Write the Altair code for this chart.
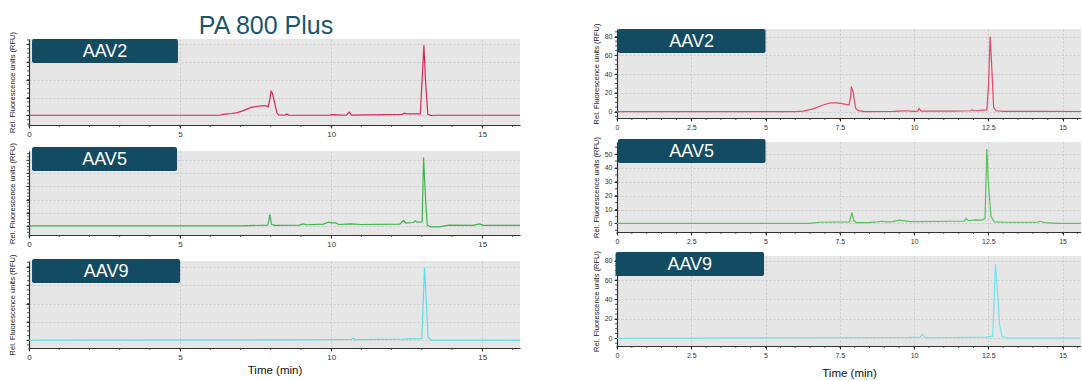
import altair as alt
import pandas as pd

# ---------------- data ----------------
# Left column (PA 800 Plus)
aav2_l_t = [0, 6.3, 6.44, 6.7, 6.9, 7.07, 7.35, 7.7, 7.85, 7.92, 7.97, 8.01, 8.05, 8.09, 8.2, 8.26, 8.45, 8.53, 8.6,
            9.9, 10.05, 10.2, 10.5, 10.6, 10.68, 12.35, 12.43, 12.5, 12.95, 13.01, 13.07, 13.12, 13.2, 13.3, 13.5, 16.3]
aav2_l_v = [0, 0, 1, 2, 3, 5, 8.8, 10.7, 10.5, 9.5, 18, 27, 25, 20, 3, 0.4, 0, 1.5, 0,
            0, 0.8, 0.5, 0, 3.4, 0.2, 1, 2.3, 1.5, 1.5, 40, 79, 40, 1, -0.3, 0, 0]

aav5_l_t = [0, 7.0, 7.9, 7.94, 7.97, 8.03, 8.16, 8.95, 9.07, 9.18, 9.74, 9.91, 10.0, 10.14, 10.25, 10.64, 10.98,
            12.27, 12.39, 12.47, 12.73, 12.78, 12.84, 13.01, 13.06, 13.12, 13.18, 13.29, 13.57, 13.9, 14.7, 14.91,
            15.03, 16.3]
aav5_l_v = [0, 0, 0.5, 4, 8.5, 1, 0.3, 0.5, 1.5, 0.8, 1.3, 2.8, 2.3, 2.3, 1, 1.5, 1,
            1.3, 4.2, 2, 2.5, 3.8, 2.8, 3, 52, 21.8, 0.5, -0.8, -0.8, 0.5, 0.3, 1.5,
            0.3, 0.3]

aav9_l_t = [0, 7.5, 9.0, 10.0, 10.66, 10.72, 10.8, 12.37, 13.0, 13.09, 13.15, 13.21, 13.31, 16.3]
aav9_l_v = [0, 0.3, 0.3, 0.7, 0.8, 2.2, 0.7, 1.1, 1.8, 79, 42, 3.3, 0, 0]

# Right column
aav2_r_t = [0, 6.0, 6.26, 6.6, 6.96, 7.19, 7.42, 7.66, 7.81, 7.86, 7.89, 7.95, 8.03, 8.12, 8.35, 9.3, 9.51, 9.74,
            9.98, 10.12, 10.17, 10.24, 11.37, 11.9, 11.95, 12.0, 12.07, 12.45, 12.51, 12.56, 12.62, 12.68, 12.76,
            13.0, 14.3, 15.8]
aav2_r_v = [0, 0, 0.7, 3, 7.4, 9.3, 9.3, 8, 7, 15, 26.7, 21, 3.7, 1.1, 0, 0.3, 0.7, 1,
            0.4, 0.5, 3.3, 0.7, 0.7, 1, 2.2, 1.2, 1, 1.9, 30, 80, 45, 4.4, 1,
            0.4, 0.4, 0.2]

aav5_r_t = [0, 6.5, 6.8, 7.83, 7.91, 7.97, 8.06, 8.47, 8.76, 8.93, 9.05, 9.28, 9.51, 9.69, 9.86, 10.21, 11.37,
            11.69, 11.75, 11.83, 12.06, 12.3, 12.39, 12.45, 12.5, 12.59, 12.7, 13.0, 14.15, 14.27, 14.39, 14.85, 15.8]
aav5_r_v = [0, 0, 0.8, 1, 8, 2, 0.5, 0.5, 1, 1.5, 1, 1.3, 2.3, 1.8, 1.3, 1.3, 1.5,
            1.5, 3.5, 2, 2.5, 2.3, 3.8, 53.75, 30, 5, 1, 0.8, 0.8, 1.5, 0.5, 0, 0]

aav9_r_t = [0, 7.5, 9.8, 10.21, 10.27, 10.35, 10.5, 12.41, 12.65, 12.74, 12.8, 12.88, 12.96, 13.11, 15.8]
aav9_r_v = [0, 0.7, 1, 1.4, 4.3, 1.4, 0.7, 1.4, 2.5, 76.5, 53, 14, 2.5, 0.4, 0.4]

# axis tick values
left_x_major = [0, 5, 10, 15]
left_x_minor = list(range(0, 17))
right_x_major = [0, 2.5, 5, 7.5, 10, 12.5, 15]
right_x_minor = [i * 0.5 for i in range(0, 32)]
y_major_80 = [0, 20, 40, 60, 80]
y_major_50 = [0, 10, 20, 30, 40, 50]
y_minor_lt = list(range(-10, 86, 5))
y_minor_lm = [x * 2.5 for x in range(-2, 23)]
y_minor_lb = list(range(-5, 86, 5))
y_minor_rt = list(range(-5, 88, 5))
y_minor_rm = list(range(-5, 59, 5))
y_minor_rb = list(range(-5, 85, 5))

TITLE = "PA 800 Plus"
YTITLE = "Rel. Fluorescence units (RFU)"
FONT = "Liberation Sans"
BOX = "#134b63"
AX = "#333333"


def panel(t, v, color, label, xdom, ydom, xmajor, xminor, ymajor, yminor, ylabels,
          width, height, xlabel_size, box_x, box_y, xtitle=None, xtitle_pad=10):
    df = pd.DataFrame({"t": t, "v": v})
    x_kw = dict(
        values=xmajor, format=".1~f", labelOverlap=False, labelFlush=False,
        grid=True, gridColor="#c4c4c4", gridDash=[2, 2], gridWidth=0.8,
        tickSize=3, tickColor=AX, domainColor=AX, domainWidth=1.2,
        labelFontSize=xlabel_size, labelColor=AX, labelFont=FONT, labelPadding=2,
    )
    if xtitle:
        x_kw.update(title=xtitle, titleFontSize=11.5, titleFont=FONT, titleFontWeight="normal",
                    titleColor="#111111", titlePadding=xtitle_pad)
    else:
        x_kw.update(title="")
    x_axis = alt.Axis(**x_kw)
    y_axis = alt.Axis(
        values=ymajor, format=".1~f", labels=ylabels, labelOverlap=False, labelFlush=False,
        grid=True, gridColor="#c4c4c4", gridDash=[2, 2], gridWidth=0.8,
        tickSize=3, tickColor=AX, domainColor=AX, domainWidth=1.2,
        labelFontSize=7, labelColor=AX, labelFont=FONT, labelPadding=2,
        title=YTITLE, titleFontSize=7.5, titleFont=FONT, titleFontWeight="normal",
        titleColor="#222222", titlePadding=(4 if ylabels else 9),
    )
    xscale = alt.Scale(domain=xdom, nice=False, zero=False)
    yscale = alt.Scale(domain=ydom, nice=False, zero=False)
    line = alt.Chart(df).mark_line(color=color, strokeWidth=1.2, clip=True).encode(
        x=alt.X("t:Q", scale=xscale, axis=x_axis),
        y=alt.Y("v:Q", scale=yscale, axis=y_axis),
    )
    xm = alt.Chart(pd.DataFrame({"m": xminor})).mark_rule(color=AX, strokeWidth=0.8).encode(
        x=alt.X("m:Q", scale=xscale, axis=x_axis), y=alt.value(height), y2=alt.value(height + 2)
    )
    ym = alt.Chart(pd.DataFrame({"m": yminor})).mark_rule(color=AX, strokeWidth=0.8).encode(
        y=alt.Y("m:Q", scale=yscale, axis=y_axis), x=alt.value(0), x2=alt.value(-2)
    )
    lab = pd.DataFrame({"label": [label]})
    box = alt.Chart(lab).mark_rect(color=BOX, cornerRadius=2).encode(
        x=alt.datum(box_x[0]), x2=alt.datum(box_x[1]),
        y=alt.value(box_y), y2=alt.value(box_y + 24),
    )
    txt = alt.Chart(lab).mark_text(color="white", fontSize=18, font=FONT).encode(
        x=alt.datum((box_x[0] + box_x[1]) / 2), y=alt.value(box_y + 12.5), text="label:N"
    )
    return alt.layer(line, xm, ym, box, txt).properties(width=width, height=height)


L_W = 491
R_W = 464
lxd = [0, 16.25]
rxd = [0, 15.62]

lt = panel(aav2_l_t, aav2_l_v, "#e2245a", "AAV2", lxd, [-11, 86], left_x_major, left_x_minor,
           y_major_80, y_minor_lt, False, L_W, 86, 8, (0.1, 4.93), 0)
lm = panel(aav5_l_t, aav5_l_v, "#3db548", "AAV5", lxd, [-7, 57], left_x_major, left_x_minor,
           y_major_50, y_minor_lm, False, L_W, 84, 8, (0.1, 4.9), -4)
lb = panel(aav9_l_t, aav9_l_v, "#55e3e8", "AAV9", lxd, [-8.5, 86.5], left_x_major, left_x_minor,
           y_major_80, y_minor_lb, False, L_W, 87, 8, (0.1, 5.0), -2,
           xtitle="Time (min)", xtitle_pad=3)

rt = panel(aav2_r_t, aav2_r_v, "#e8456a", "AAV2", rxd, [-6.7, 88], right_x_major, right_x_minor,
           y_major_80, y_minor_rt, True, R_W, 89, 7, (0.03, 5.0), 0)
rm = panel(aav5_r_t, aav5_r_v, "#55c25a", "AAV5", rxd, [-6.25, 58.75], right_x_major, right_x_minor,
           y_major_50, y_minor_rm, True, R_W, 90, 7, (0.03, 5.0), -3)
rb = panel(aav9_r_t, aav9_r_v, "#6ee6ec", "AAV9", rxd, [-7.8, 84.7], right_x_major, right_x_minor,
           y_major_80, y_minor_rb, True, R_W, 90, 7, (-0.05, 4.95), -4,
           xtitle="Time (min)", xtitle_pad=9)

INVISIBLE = alt.ViewBackground(fillOpacity=0, strokeOpacity=0)

# heading over the left column, and an empty spacer over the right column
heading = alt.Chart(pd.DataFrame({"s": [TITLE]})).mark_text(
    fontSize=25, font=FONT, color="#1b5570", baseline="alphabetic", align="center"
).encode(x=alt.value(237), y=alt.value(30.4), text="s:N").properties(
    width=L_W, height=9, view=INVISIBLE
)
spacer = alt.Chart(pd.DataFrame({"s": [""]})).mark_text(fontSize=1).encode(
    x=alt.value(0), y=alt.value(0), text="s:N"
).properties(width=R_W, height=1, view=INVISIBLE)

left = alt.vconcat(heading, lt, lm, lb, spacing=26, bounds="flush")
right = alt.vconcat(spacer, rt, rm, rb, spacing=24, bounds="flush")

chart = alt.hconcat(left, right, spacing=72).properties(
    padding={"left": 8, "top": 3, "right": 0, "bottom": 0}, background="white"
).configure_view(fill="#e6e6e6", strokeWidth=0)

chart.save("out.html", embed_options={"renderer": "svg", "actions": False})
